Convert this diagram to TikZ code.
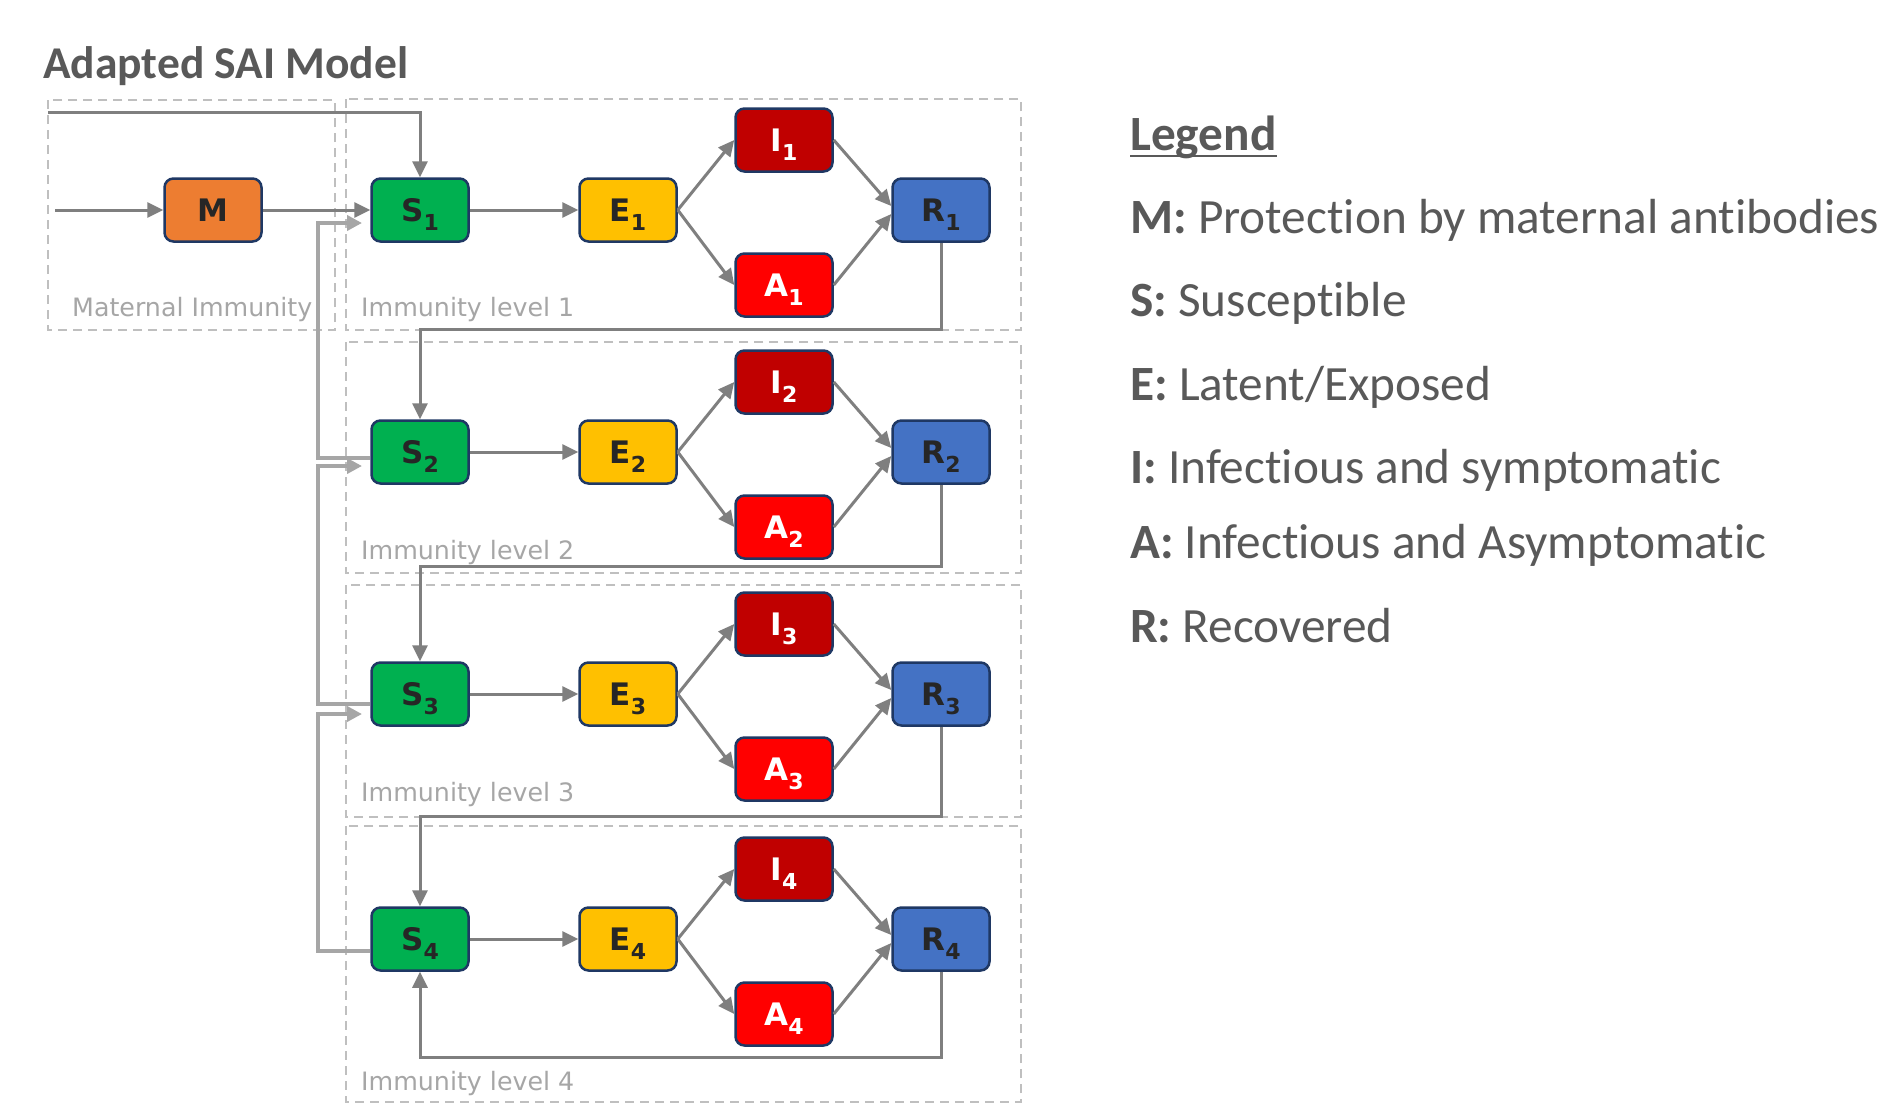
\documentclass[tikz,border=0pt]{standalone}
\usepackage{fontspec}
\setmainfont[Ligatures={NoCommon}]{Carlito}
\newfontfamily\dvs{DejaVu Sans}
\usetikzlibrary{arrows.meta}
\definecolor{cM}{HTML}{ED7D31}
\definecolor{cS}{HTML}{00B050}
\definecolor{cE}{HTML}{FFC000}
\definecolor{cI}{HTML}{C00000}
\definecolor{cA}{HTML}{FF0000}
\definecolor{cR}{HTML}{4472C4}
\definecolor{navy}{HTML}{1F3864}
\definecolor{darkg}{HTML}{7F7F7F}
\definecolor{lightg}{HTML}{A6A6A6}
\definecolor{dashc}{HTML}{BFBFBF}
\definecolor{txt}{HTML}{595959}
\definecolor{ntxt}{HTML}{262626}
\newcommand\sbs[2]{#1\raisebox{-0.3em}{\fontsize{22}{22}\selectfont #2}}
\begin{document}
\begin{tikzpicture}[x=1pt,y=-1pt,
  cbox/.style={draw=navy, line width=2.5pt, rounded corners=9pt, minimum width=97pt, minimum height=63pt, inner sep=0pt,
     text height=22.6pt, text depth=0pt,
     font=\dvs\bfseries\fontsize{31}{31}\selectfont, text=ntxt},
  sbox/.style={cbox, fill=cS},
  ebox/.style={cbox, fill=cE},
  ibox/.style={cbox, fill=cI, text=white},
  abox/.style={cbox, fill=cA, text=white},
  rbox/.style={cbox, fill=cR},
  arr/.style={draw=darkg, line width=3pt, -{Triangle[length=16pt,width=15pt]}},
  larr/.style={draw=lightg, line width=4pt, -{Triangle[length=15pt,width=15pt]}},
  grp/.style={draw=dashc, line width=2.5pt, dash pattern=on 9pt off 6pt},
  grplabel/.style={anchor=base west, inner sep=0pt, text=lightg, font=\dvs\fontsize{25.3}{25.3}\selectfont},
  legtxt/.style={anchor=base west, inner sep=0pt, text=txt, font=\fontsize{49.3}{49.3}\selectfont}
]
\useasboundingbox[fill=white] (0,0) rectangle (1889,1104);

% title
\node[anchor=base west, inner sep=0pt, text=txt, font=\bfseries\fontsize{45.5}{45.5}\selectfont] (title) at (43,78) {Adapted SAI Model};

% dashed groups
\draw[grp] (48,100) rectangle (335,330);
\draw[grp] (346,99) rectangle (1021,330);
\draw[grp] (346,342) rectangle (1021,573);
\draw[grp] (346,585) rectangle (1021,817);
\draw[grp] (346,826) rectangle (1021,1102);

\node[grplabel] (lm) at (72,316) {Maternal Immunity};
\node[grplabel] (l1) at (361,316) {Immunity level 1};
\node[grplabel] (l2) at (361,559) {Immunity level 2};
\node[grplabel] (l3) at (361,801) {Immunity level 3};
\node[grplabel] (l4) at (361,1090) {Immunity level 4};

% nodes
\node[cbox, fill=cM] (M) at (213,210) {M};
\foreach \k/\y in {1/210, 2/452, 3/694, 4/939} {
  \node[sbox] (S\k) at (420,\y) {\sbs{S}{\k}};
  \node[ebox] (E\k) at (628,\y) {\sbs{E}{\k}};
  \node[ibox] (I\k) at (784,\y-70) {\sbs{I}{\k}};
  \node[abox] (A\k) at (784,\y+75) {\sbs{A}{\k}};
  \node[rbox] (R\k) at (941,\y) {\sbs{R}{\k}};
  \draw[arr] (S\k) -- (E\k);
  \draw[arr] (E\k.east) -- (I\k.west);
  \draw[arr] (E\k.east) -- (A\k.west);
  \draw[arr] (I\k.east) -- ([yshift=4pt]R\k.west);
  \draw[arr] (A\k.east) -- ([yshift=-4pt]R\k.west);
}

% maternal connectors
\coordinate (min) at (55,210);
\draw[arr] (min) -- (M);
\draw[arr] (M) -- (S1);
\coordinate (top0) at (48,112);
\draw[arr] (top0) -| (S1.north);

% recovery to next level
\coordinate (h1) at (420,329);
\coordinate (h2) at (420,566);
\coordinate (h3) at (420,816);
\coordinate (h4) at (420,1057);
\draw[arr] (R1.south) |- (h1) -- (S2.north);
\draw[arr] (R2.south) |- (h2) -- (S3.north);
\draw[arr] (R3.south) |- (h3) -- (S4.north);
\draw[arr] (R4.south) |- (h4) -- (S4.south);

% light gray feedback
\coordinate (o2) at (318,458);
\coordinate (o3) at (318,704);
\coordinate (o4) at (318,951);
\coordinate (i1) at (318,223);
\coordinate (i2) at (318,466);
\coordinate (i3) at (318,714);
\coordinate (t1) at (362,223);
\coordinate (t2) at (362,466);
\coordinate (t3) at (362,714);
\draw[larr] (S2.west |- o2) -- (o2) -- (i1) -- (t1);
\draw[larr] (S3.west |- o3) -- (o3) -- (i2) -- (t2);
\draw[larr] (S4.west |- o4) -- (o4) -- (i3) -- (t3);

% legend
\node[legtxt, font=\bfseries\fontsize{49.3}{49.3}\selectfont] (leg) at (1130,150) {Legend};
\draw[txt, line width=2.5pt] ([yshift=-6pt]leg.base west) -- ([yshift=-6pt]leg.base east);
\node[legtxt] (lgM) at (1130,233) {\textbf{M:} Protection by maternal antibodies};
\node[legtxt] (lgS) at (1130,316) {\textbf{S:} Susceptible};
\node[legtxt] (lgE) at (1130,400) {\textbf{E:} Latent/Exposed};
\node[legtxt] (lgI) at (1130,483) {\textbf{I:} Infectious and symptomatic};
\node[legtxt] (lgA) at (1130,558) {\textbf{A:} Infectious and Asymptomatic};
\node[legtxt] (lgR) at (1130,642) {\textbf{R:} Recovered};
\end{tikzpicture}
\end{document}
